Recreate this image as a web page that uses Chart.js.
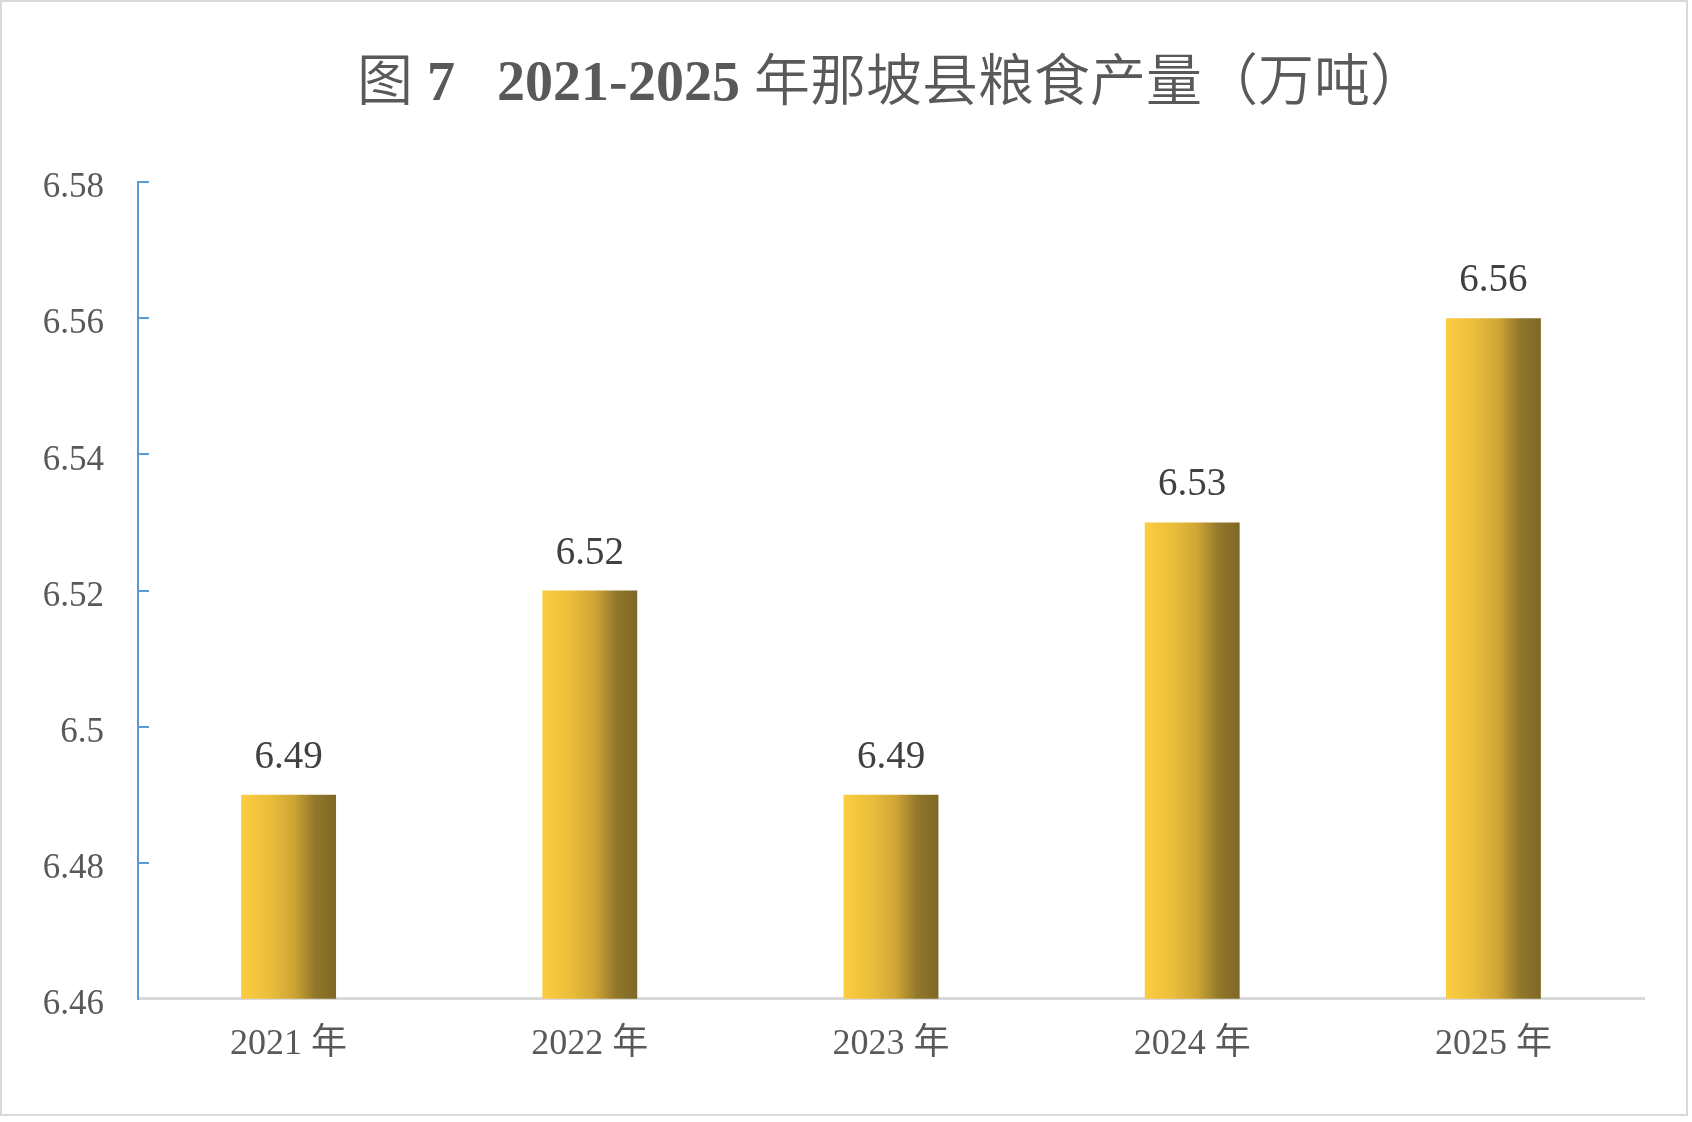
<!DOCTYPE html>
<html>
<head>
<meta charset="utf-8">
<script src="https://cdn.jsdelivr.net/npm/chart.js@4.4.1/dist/chart.umd.min.js"></script>
<style>
  html, body { margin: 0; padding: 0; background: #ffffff; }
  #wrap { width: 1692px; height: 1122px; }
  @font-face {
    font-family: 'TitleMix';
    src: local('Liberation Serif Bold'), local('LiberationSerif-Bold');
    font-weight: 700;
    unicode-range: U+0000-024F, U+2010-2027;
  }
  @font-face {
    font-family: 'TitleMix';
    src: local('Noto Sans CJK SC DemiLight'), local('NotoSansCJKsc-DemiLight'),
         local('Noto Sans CJK SC Regular'), local('NotoSansCJKsc-Regular'), local('Noto Sans CJK SC');
    font-weight: 700;
    unicode-range: U+2E80-9FFF, U+3000-303F, U+FF00-FFEF;
  }
</style>
</head>
<body>
<div id="wrap"><canvas id="c" width="1692" height="1122"></canvas></div>
<script>
// ---- data ----
const chartTitle = '图 7   2021-2025 年那坡县粮食产量（万吨）';
const categories = ['2021 年', '2022 年', '2023 年', '2024 年', '2025 年'];
const grainOutput = [6.49, 6.52, 6.49, 6.53, 6.56];
const valueLabels = ['6.49', '6.52', '6.49', '6.53', '6.56'];
const yTickLabels = ['6.46', '6.48', '6.5', '6.52', '6.54', '6.56', '6.58'];
const yMin = 6.46, yMax = 6.58, yStep = 0.02;

const SERIF = "'Liberation Serif', 'Times New Roman', 'Noto Sans CJK SC', serif";
const TITLE_FONT = "TitleMix, 'Liberation Serif', 'Noto Sans CJK SC', serif";
const BAR_PCT = 0.315;

const frameAndLabels = {
  id: 'frameAndLabels',
  beforeDraw(chart) {
    const ctx = chart.ctx;
    ctx.save();
    ctx.fillStyle = '#ffffff';
    ctx.fillRect(0, 0, chart.width, chart.height);
    ctx.strokeStyle = '#d9d9d9';
    ctx.lineWidth = 2;
    ctx.strokeRect(1, 1, 1686, 1114);
    ctx.restore();
  },
  afterDatasetsDraw(chart) {
    const ctx = chart.ctx;
    const meta = chart.getDatasetMeta(0);
    ctx.save();
    ctx.font = '39px ' + SERIF;
    ctx.fillStyle = '#404040';
    ctx.textAlign = 'center';
    ctx.textBaseline = 'alphabetic';
    meta.data.forEach((bar, i) => {
      ctx.fillText(valueLabels[i], bar.x, bar.y - 27);
    });
    ctx.restore();
  }
};

function barGradient(c) {
  const chart = c.chart;
  const xs = chart.scales && chart.scales.x;
  if (!xs || !chart.chartArea || c.dataIndex === undefined) return '#d4ae38';
  const cx = xs.getPixelForValue(c.dataIndex);
  const w = (xs.width / categories.length) * BAR_PCT;
  const g = chart.ctx.createLinearGradient(cx - w / 2, 0, cx + w / 2, 0);
  g.addColorStop(0, '#fdcd40');
  g.addColorStop(0.3, '#eabd3b');
  g.addColorStop(0.55, '#cfa634');
  g.addColorStop(0.78, '#92772b');
  g.addColorStop(1, '#7e6826');
  return g;
}

function build() {
  new Chart(document.getElementById('c'), {
    type: 'bar',
    data: {
      labels: categories,
      datasets: [{
        data: grainOutput,
        backgroundColor: barGradient,
        borderWidth: 0,
        barPercentage: BAR_PCT,
        categoryPercentage: 1.0
      }]
    },
    plugins: [frameAndLabels],
    options: {
      responsive: false,
      devicePixelRatio: 1,
      animation: false,
      layout: { padding: { left: 20, right: 48, top: 0, bottom: 32 } },
      plugins: {
        legend: { display: false },
        tooltip: { enabled: false },
        title: {
          display: true,
          fullSize: false,
          text: chartTitle,
          color: '#595959',
          font: { family: TITLE_FONT, size: 56, weight: 'bold' },
          padding: { top: 52, bottom: 63 }
        }
      },
      scales: {
        x: {
          grid: { display: false, drawTicks: false },
          border: { display: true, color: '#d9d9d9', width: 3 },
          ticks: {
            color: '#595959',
            font: { family: SERIF, size: 36 },
            padding: 24,
            maxRotation: 0,
            autoSkip: false
          }
        },
        y: {
          min: yMin,
          max: yMax,
          afterFit(scale) { scale.width = 118; },
          grid: {
            display: true,
            drawOnChartArea: false,
            drawTicks: true,
            tickLength: -11,
            color: '#5b9bd5',
            lineWidth: 2
          },
          border: { display: true, color: '#5b9bd5', width: 2 },
          ticks: {
            stepSize: yStep,
            color: '#595959',
            font: { family: SERIF, size: 35 },
            padding: 45,
            labelOffset: 6,
            callback: (v, i) => yTickLabels[i]
          }
        }
      }
    }
  });
}

const fontReady = document.fonts && document.fonts.load
  ? Promise.all([
      document.fonts.load("bold 56px TitleMix", '图7年那坡县粮食产量（万吨）2021-2025'),
      document.fonts.load("36px 'Liberation Serif'", '2021'),
      document.fonts.load("36px 'Noto Sans CJK SC'", '年')
    ]).catch(() => {})
  : Promise.resolve();
Promise.race([fontReady, new Promise(r => setTimeout(r, 1500))]).then(build);
</script>
</body>
</html>
